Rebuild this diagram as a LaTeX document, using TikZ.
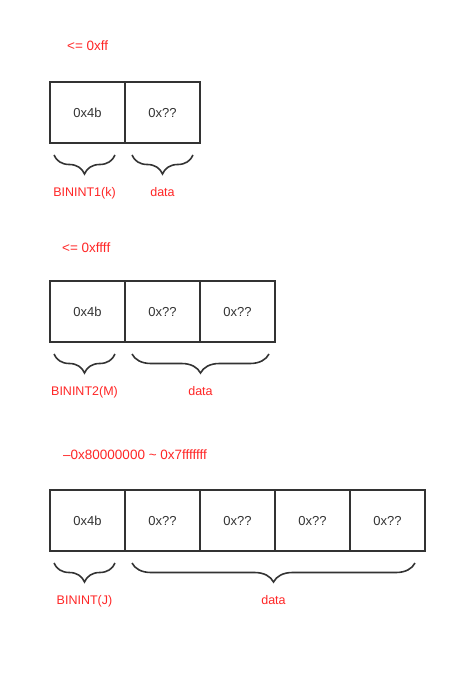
\documentclass[tikz,border=0pt]{standalone}
\usepackage{fontspec}
\setmainfont{Liberation Sans}
\usetikzlibrary{positioning, decorations.pathreplacing}
\definecolor{notered}{RGB}{255,38,38}
\definecolor{inkgrey}{RGB}{51,51,51}
\tikzset{
    cell/.style={rectangle, draw=inkgrey, line width=1.6pt, minimum width=75pt, minimum height=61pt, inner sep=0pt, outer sep=0pt, text height=9.5pt, text depth=0pt, text=inkgrey, font=\fontsize{13}{15}\selectfont},
    brace/.style={decorate, decoration={brace, mirror, amplitude=19pt}, draw=inkgrey, line width=1.6pt},
    note/.style={text=notered, inner sep=0pt, font=\fontsize{12.5}{14}\selectfont},
    rangenote/.style={note, anchor=west, font=\fontsize{13.5}{15}\selectfont}
}

\begin{document}
\begin{tikzpicture}[x=1pt, y=-1pt, node distance=0pt]
    \useasboundingbox (0,0) rectangle (450,692);

    % BININT1
    \node (hdrk) [rangenote] at (67,46) {<= 0xff};
    \node (k) [cell, anchor=north west] at (50,82) {0x4b};
    \node (kd1) [cell, right=of k] {0x??};
    \draw [brace] ([xshift=4pt, yshift=-12pt]k.south west) -- ([xshift=-10pt, yshift=-12pt]k.south east)
        node[note, midway, below=32pt] {BININT1(k)};
    \draw [brace] ([xshift=7pt, yshift=-12pt]kd1.south west) -- ([xshift=-7pt, yshift=-12pt]kd1.south east)
        node[note, midway, below=32pt] {data};

    % BININT2
    \node (hdrm) [rangenote] at (62,248) {<= 0xffff};
    \node (m) [cell, anchor=north west] at (50,281) {0x4b};
    \node (md1) [cell, right=of m] {0x??};
    \node (md2) [cell, right=of md1] {0x??};
    \draw [brace] ([xshift=4pt, yshift=-12pt]m.south west) -- ([xshift=-10pt, yshift=-12pt]m.south east)
        node[note, midway, below=32pt] {BININT2(M)};
    \draw [brace] ([xshift=7pt, yshift=-12pt]md1.south west) -- ([xshift=-6pt, yshift=-12pt]md2.south east)
        node[note, midway, below=32pt] {data};

    % BININT
    \node (hdrj) [rangenote] at (63,455) {\textendash0x80000000 \textasciitilde\ 0x7fffffff};
    \node (j) [cell, anchor=north west] at (50,490) {0x4b};
    \node (jd1) [cell, right=of j] {0x??};
    \node (jd2) [cell, right=of jd1] {0x??};
    \node (jd3) [cell, right=of jd2] {0x??};
    \node (jd4) [cell, right=of jd3] {0x??};
    \draw [brace] ([xshift=4pt, yshift=-12pt]j.south west) -- ([xshift=-10pt, yshift=-12pt]j.south east)
        node[note, midway, below=32pt] {BININT(J)};
    \draw [brace] ([xshift=7pt, yshift=-12pt]jd1.south west) -- ([xshift=-10pt, yshift=-12pt]jd4.south east)
        node[note, midway, below=32pt] {data};
\end{tikzpicture}
\end{document}
